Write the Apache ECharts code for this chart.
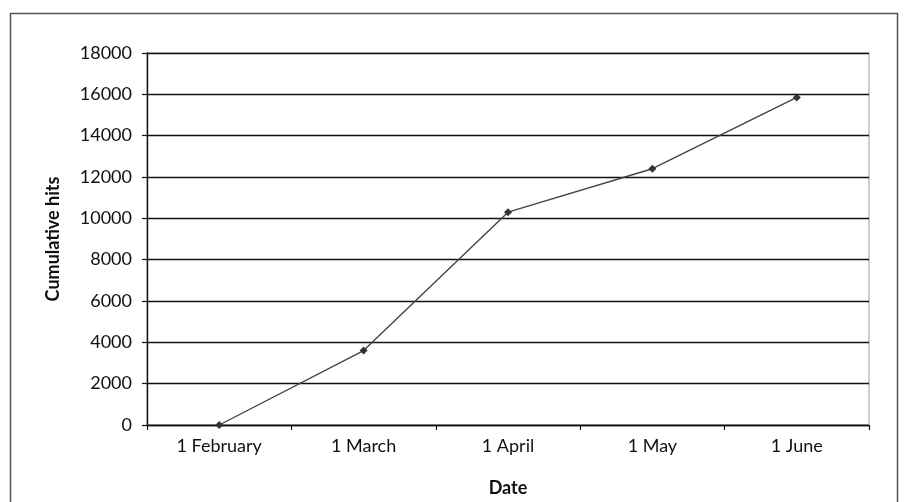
<!DOCTYPE html>
<html>
<head>
<meta charset="utf-8">
<script src="https://cdn.jsdelivr.net/npm/echarts@6/dist/echarts.min.js"></script>
<style>
  html, body { margin: 0; padding: 0; background: #fff; }
  #chart { width: 907px; height: 502px; }
</style>
</head>
<body>
<div id="chart"></div>
<script>
// Cumulative hits by month
const dates = ['1 February', '1 March', '1 April', '1 May', '1 June'];
const hits = [0, 3600, 10300, 12400, 15850];
const yTicks = { min: 0, max: 18000, step: 2000 };

const FONT = 'Lato, "Open Sans", sans-serif';
const chart = echarts.init(document.getElementById('chart'));
chart.setOption({
  animation: false,
  graphic: [{
    type: 'rect',
    shape: { x: 10.5, y: 13.5, width: 887, height: 520 },
    style: { fill: 'none', stroke: '#555', lineWidth: 1.5 },
    silent: true
  }],
  grid: {
    left: 147, right: 38, top: 53, bottom: 72,
    show: true, borderColor: '#bdbdbd', borderWidth: 1.5, backgroundColor: 'transparent'
  },
  xAxis: {
    type: 'category',
    data: dates,
    boundaryGap: true,
    name: 'Date',
    nameLocation: 'middle',
    nameGap: 54,
    nameTextStyle: { fontFamily: FONT, fontSize: 18, fontWeight: 'bold', color: '#111' },
    axisLine: { lineStyle: { color: '#111', width: 1.4 } },
    axisTick: { show: true, length: 5, lineStyle: { color: '#111', width: 1.2 } },
    axisLabel: { fontFamily: FONT, fontSize: 18, color: '#111', margin: 12 },
    splitLine: { show: false }
  },
  yAxis: {
    type: 'value',
    min: yTicks.min, max: yTicks.max, interval: yTicks.step,
    name: 'Cumulative hits',
    nameLocation: 'middle',
    nameGap: 85,
    nameRotate: 90,
    nameTextStyle: { fontFamily: FONT, fontSize: 18, fontWeight: 'bold', color: '#111' },
    axisLine: { show: true, lineStyle: { color: '#111', width: 1.4 } },
    axisTick: { show: true, length: 5, lineStyle: { color: '#111', width: 1.2 } },
    axisLabel: { fontFamily: FONT, fontSize: 18, color: '#111', margin: 15, formatter: v => String(v) },
    splitLine: { show: true, lineStyle: { color: '#111', width: 1.4 } }
  },
  series: [{
    type: 'line',
    data: hits,
    symbol: 'diamond',
    symbolSize: 8,
    itemStyle: { color: '#333' },
    lineStyle: { color: '#444', width: 1.4 }
  }]
});
</script>
</body>
</html>
